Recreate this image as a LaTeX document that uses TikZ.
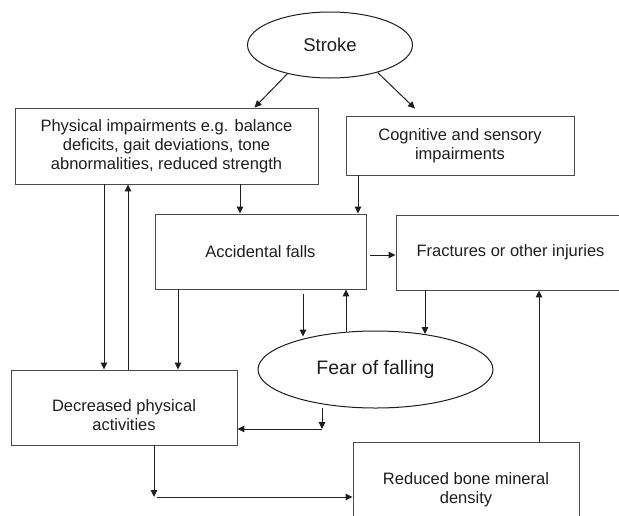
\documentclass[tikz,border=0pt]{standalone}
\usepackage{fontspec}
\setmainfont{Liberation Sans}
\usetikzlibrary{arrows.meta,shapes.geometric,calc}
\definecolor{ink}{HTML}{1E1E1E}
\definecolor{edge}{HTML}{4A4A4A}
\tikzset{
  boxtext/.style={text=ink,align=center,font=\fontsize{16.5pt}{19pt}\selectfont},
  box/.style={draw=edge,line width=0.9pt,rectangle,inner sep=0pt,boxtext},
  oval/.style={draw=ink,line width=1pt,ellipse,inner sep=0pt,text=ink},
  arr/.style={draw=ink,line width=1pt,-{Triangle[length=7pt,width=6.5pt]}},
}
\begin{document}
\begin{tikzpicture}[x=1pt,y=-1pt]
\useasboundingbox (0,0) rectangle (619,515);
\fill[white] (0,0) rectangle (619,515);
\clip (0,0) rectangle (619,515);

% nodes
\node[oval,minimum width=165pt,minimum height=66pt,font=\fontsize{18.5pt}{22pt}\selectfont] (stroke) at (330,45) {Stroke};
\node[box,minimum width=303pt,minimum height=76pt] (phys) at (166.5,146)
  {Physical impairments e.g. balance\\deficits, gait deviations, tone\\abnormalities, reduced strength};
\node[box,minimum width=228pt,minimum height=59pt] (cog) at (460,145.5)
  {Cognitive and sensory\\impairments};
\node[box,minimum width=211pt,minimum height=75pt] (acc) at (260.5,251.5)
  {Accidental falls};
\node[box,minimum width=229pt,minimum height=75pt] (frac) at (510.5,252.5)
  {Fractures or other injuries};
\node[oval,minimum width=235pt,minimum height=77pt,font=\fontsize{19.5pt}{23pt}\selectfont] (fear) at (375.5,369.5) {Fear of falling};
\node[box,minimum width=226pt,minimum height=75pt,
  label={[name=decT,boxtext,yshift=-8pt]center:Decreased physical\\activities}] (dec) at (124,407.5) {};
\node[box,minimum width=226pt,minimum height=88pt,
  label={[name=redT,boxtext,yshift=-4pt]center:Reduced bone mineral\\density}] (red) at (466,486) {};

% connectors
\draw[arr] (stroke.214) -- ([xshift=88pt]phys.north);
\draw[arr] (stroke.330) -- ([xshift=-45pt,yshift=7pt]cog.north);
\draw[arr] (240,0 |- phys.south) -- (240,0 |- acc.north);
\draw[arr] (358,0 |- cog.south) -- (358,0 |- acc.north);
\draw[arr] (104,0 |- phys.south) -- (104,0 |- dec.north);
\draw[arr] (128,0 |- dec.north) -- (128,0 |- phys.south);
\draw[arr] (178,0 |- acc.south) -- (178,0 |- dec.north);
\coordinate (afs) at (370,255);
\draw[arr] (afs) -- (afs -| frac.west);
\draw[arr] ([yshift=-5pt]acc.south -| 303,0) -- ([yshift=-6pt]fear.north -| 303,0);
\draw[arr] ([yshift=-1pt]fear.north -| 346,0) -- (346,0 |- acc.south);
\draw[arr] (425,0 |- frac.south) -- ([yshift=-3.5pt]fear.north -| 425,0);
\draw[arr] (539,0 |- red.north) -- (539,0 |- frac.south);
\coordinate (fd) at (322,429);
\draw[arr] ([yshift=1pt]fear.south -| 322,0) -- (fd);
\draw[arr] (fd) -- (fd -| dec.east);
\coordinate (dr) at (154,497);
\draw[arr] (154,0 |- dec.south) -- (dr);
\draw[arr] ([xshift=3pt]dr) -- (dr -| red.west);
\end{tikzpicture}
\end{document}
